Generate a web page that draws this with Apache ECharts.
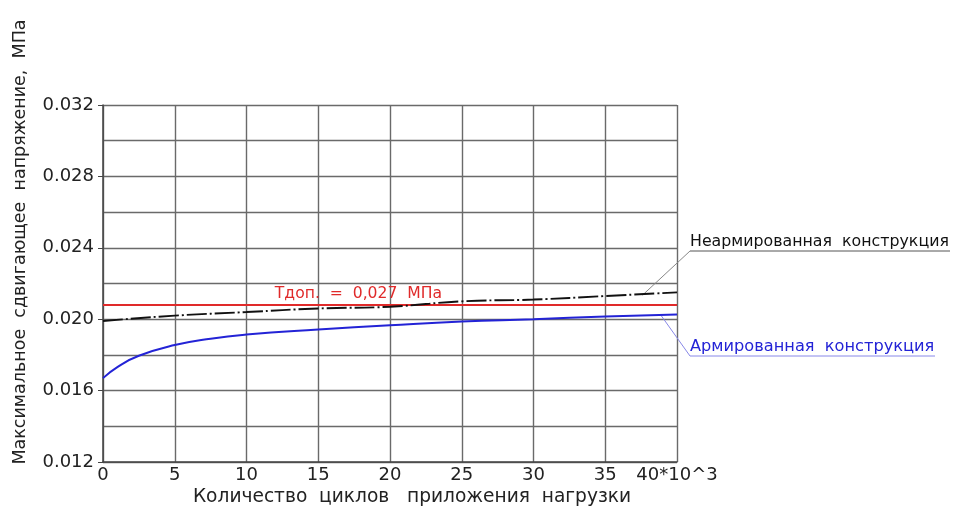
<!DOCTYPE html>
<html><head><meta charset="utf-8">
<script src="https://cdn.jsdelivr.net/npm/echarts@6/dist/echarts.min.js"></script>
<style>html,body{margin:0;padding:0;background:#fff}#c{width:955px;height:514px}</style>
</head><body><div id="c"></div>
<script>
// cycles (×10^3)
const cyclesBlack = [0, 5, 10, 15, 20, 25, 30, 35, 40];
const unreinforced = [0.0199, 0.0202, 0.0204, 0.0206, 0.0207, 0.0210, 0.0211, 0.0213, 0.0215];
const cyclesBlue = [0, 1, 2.5, 5, 7.5, 10, 15, 20, 25, 30, 35, 40];
const reinforced = [0.01670, 0.01732, 0.01795, 0.01855, 0.01891, 0.01914, 0.01942, 0.01966, 0.01987, 0.0200, 0.02015, 0.02026];
const allowableX = [0, 40];
const allowable = [0.0208, 0.0208];
const xTicks = [0, 5, 10, 15, 20, 25, 30, 35, 40];
const yTicks = [0.012, 0.016, 0.020, 0.024, 0.028, 0.032];
const labelBlack = 'Неармированная  конструкция';
const labelBlue = 'Армированная  конструкция';
const labelRed = 'Тдоп.  =  0,027  МПа';
const yTitle = 'Максимальное  сдвигающее  напряжение,  МПа';
const xTitle = 'Количество  циклов   приложения  нагрузки';

const zip = (xs, ys) => xs.map((x, i) => [x, ys[i]]);
const chart = echarts.init(document.getElementById('c'));
const gridColor = '#6a6a6a';
const font = 'DejaVu Sans';
chart.setOption({
  animation: false,
  backgroundColor: '#fff',
  grid: { left: 103, right: 278, top: 105, bottom: 52 },
  xAxis: {
    type: 'value', min: xTicks[0], max: xTicks[xTicks.length - 1], interval: 5,
    axisLine: { show: true, lineStyle: { color: '#444', width: 1.5 } },
    axisTick: { show: false },
    splitLine: { show: true, lineStyle: { color: gridColor, width: 1.4 } },
    axisLabel: { fontFamily: font, fontSize: 18, color: '#222', margin: 4,
      formatter: v => v === 40 ? '40*10^3' : String(v) }
  },
  yAxis: {
    type: 'value', min: yTicks[0], max: yTicks[yTicks.length - 1], interval: 0.004,
    axisLine: { show: true, lineStyle: { color: '#444', width: 1.5 } },
    axisTick: { show: true, length: 5, lineStyle: { color: '#444' } },
    minorTick: { show: true, splitNumber: 2, length: 0 },
    minorSplitLine: { show: true, lineStyle: { color: gridColor, width: 1.4 } },
    splitLine: { show: true, lineStyle: { color: gridColor, width: 1.4 } },
    axisLabel: { fontFamily: font, fontSize: 18, color: '#222', margin: 9,
      formatter: v => v.toFixed(3) }
  },
  series: [
    { type: 'line', data: zip(allowableX, allowable), symbol: 'none',
      lineStyle: { color: '#e02a2a', width: 2 }, z: 3 },
    { type: 'line', data: zip(cyclesBlack, unreinforced), symbol: 'none', smooth: true,
      lineStyle: { color: '#111', width: 1.9, type: [20, 3, 2, 3] }, z: 4 },
    { type: 'line', data: zip(cyclesBlue, reinforced), symbol: 'none', smooth: true,
      lineStyle: { color: '#2323d6', width: 2 }, z: 4 }
  ]
});

const p = (x, y) => chart.convertToPixel({ gridIndex: 0 }, [x, y]);
const redPos = p(17.8, allowable[0]);
const blackAnchor = p(37.6, 0.02135);
const blueAnchor = p(38.9, 0.0202);
const gTextBlack = [690, 242];
const gTextBlue = [690, 347];
chart.setOption({
  graphic: [
    { type: 'text', x: 20, y: 242, rotation: Math.PI / 2,
      style: { text: yTitle, fontFamily: font, fontSize: 17.5, fill: '#222', align: 'center', verticalAlign: 'middle' } },
    { type: 'text', x: 412, y: 497,
      style: { text: xTitle, fontFamily: font, fontSize: 18.6, fill: '#222', align: 'center', verticalAlign: 'middle' } },
    { type: 'text', x: redPos[0], y: redPos[1] - 11,
      style: { text: labelRed, fontFamily: font, fontSize: 15.6, fill: '#e02a2a', align: 'center', verticalAlign: 'middle' } },
    { type: 'text', x: gTextBlack[0], y: gTextBlack[1],
      style: { text: labelBlack, fontFamily: font, fontSize: 15.8, fill: '#111', align: 'left', verticalAlign: 'middle' } },
    { type: 'line', shape: { x1: gTextBlack[0], y1: gTextBlack[1] + 9, x2: 950, y2: gTextBlack[1] + 9 },
      style: { stroke: '#555', lineWidth: 1 } },
    { type: 'line', shape: { x1: blackAnchor[0], y1: blackAnchor[1], x2: gTextBlack[0], y2: gTextBlack[1] + 9 },
      style: { stroke: '#888', lineWidth: 1 } },
    { type: 'text', x: gTextBlue[0], y: gTextBlue[1],
      style: { text: labelBlue, fontFamily: font, fontSize: 16.2, fill: '#2323d6', align: 'left', verticalAlign: 'middle' } },
    { type: 'line', shape: { x1: gTextBlue[0], y1: gTextBlue[1] + 9, x2: 935, y2: gTextBlue[1] + 9 },
      style: { stroke: '#8888e8', lineWidth: 1 } },
    { type: 'line', shape: { x1: blueAnchor[0], y1: blueAnchor[1], x2: gTextBlue[0], y2: gTextBlue[1] + 9 },
      style: { stroke: '#8888e8', lineWidth: 1 } }
  ]
});
</script></body></html>
